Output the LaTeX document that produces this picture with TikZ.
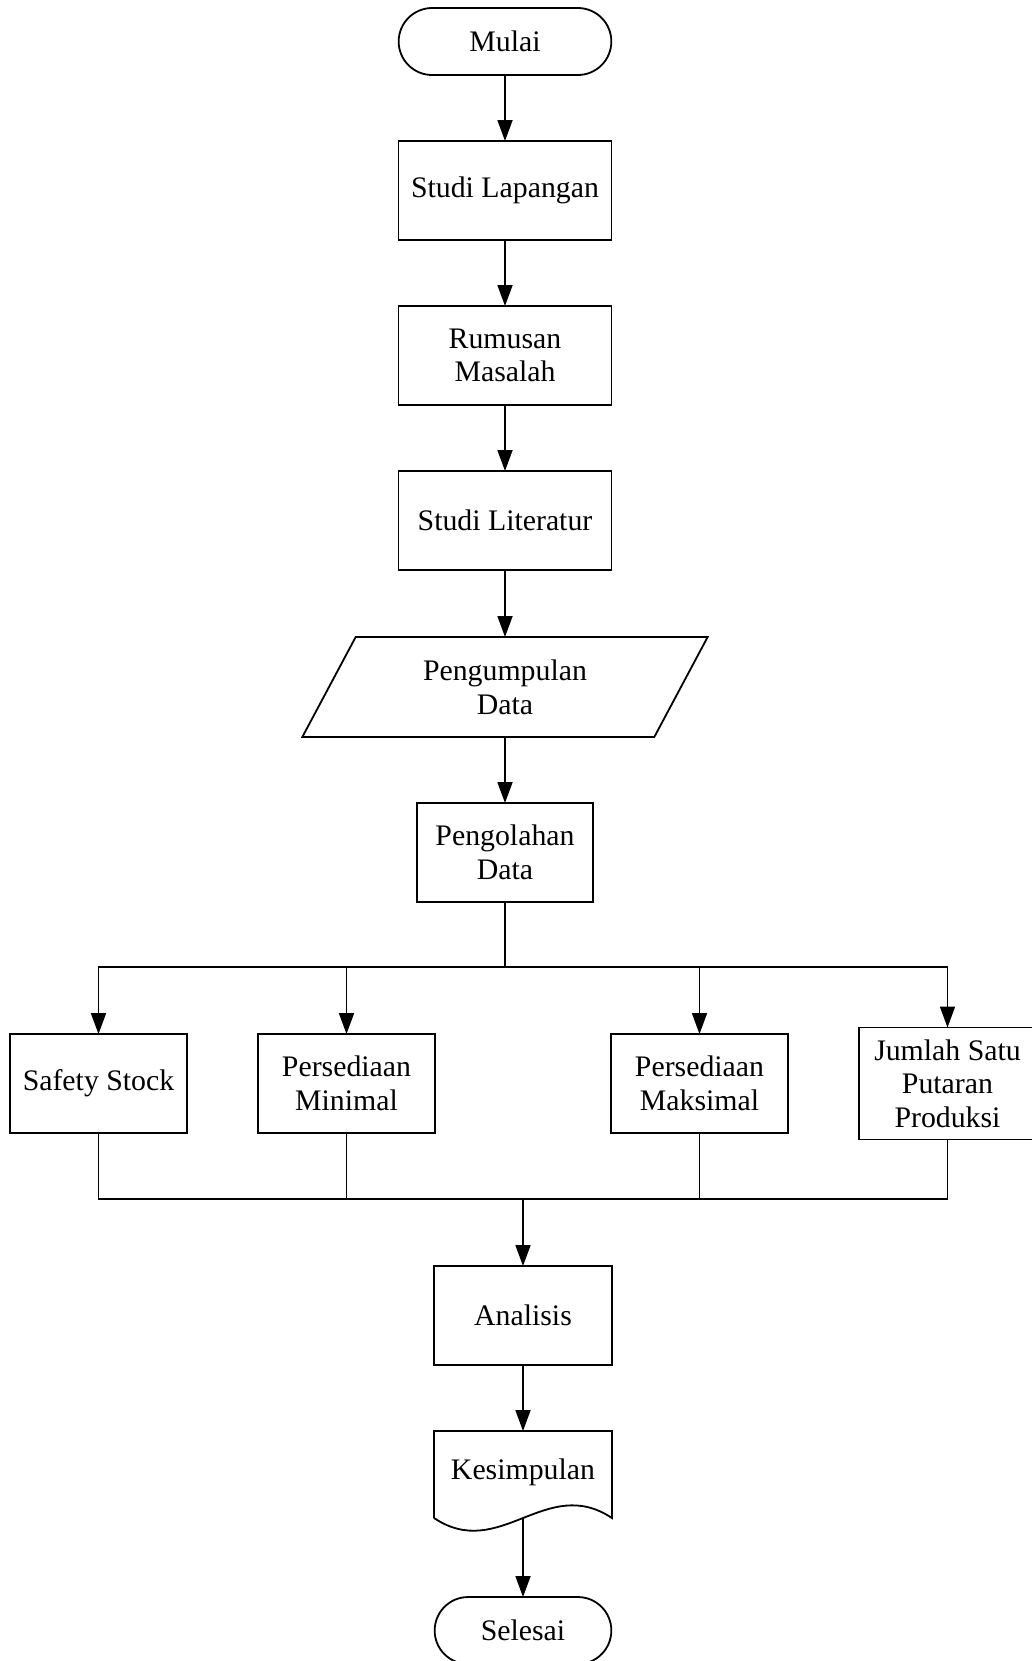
\documentclass[tikz,border=0pt]{standalone}
\usepackage{fontspec}
\setmainfont{Liberation Serif}
\usetikzlibrary{arrows.meta,calc,positioning,shapes.geometric,shapes.misc}

\begin{document}
\begin{tikzpicture}[
    font=\fontsize{14.9pt}{16.8pt}\selectfont,
    line width=0.9pt,
    node distance=33pt,
    every node/.style={outer sep=0pt},
    box/.style={draw,rectangle,minimum width=88.5pt,minimum height=49.5pt,
      align=center,inner sep=2pt},
    terminal/.style={draw,rounded rectangle,minimum width=113pt,minimum height=33.5pt},
    iobox/.style={draw,trapezium,trapezium left angle=65,trapezium right angle=115,
      trapezium stretches=true,minimum width=203pt,minimum height=50pt,align=center},
    arrow/.style={-{Triangle[length=10.5pt,width=7.5pt]}}
  ]
    \useasboundingbox (0,0) rectangle (516pt,-830.5pt);

    \node[terminal] (mulai) at (252.5pt,-20.75pt) {Mulai};
    \node[box,below=of mulai,minimum width=106.5pt] (lapangan) {Studi Lapangan};
    \node[box,below=of lapangan,minimum width=106.5pt] (rumusan) {Rumusan\\Masalah};
    \node[box,below=of rumusan,minimum width=106.5pt] (literatur) {Studi Literatur};
    \node[iobox,below=33.5pt of literatur] (pengumpulan) {Pengumpulan\\Data};
    \node[box,below=of pengumpulan,minimum width=88pt] (pengolahan) {Pengolahan\\Data};

    % hasil pengolahan
    \node[box,below=66pt of pengolahan,xshift=-203.25pt] (safety) {Safety Stock};
    \node[box,right=35.5pt of safety] (minimal) {Persediaan\\Minimal};
    \node[box,right=88pt of minimal] (maksimal) {Persediaan\\Maksimal};
    \node[box,right=35.5pt of maksimal,minimum height=56pt] (jumlah) {Jumlah Satu\\Putaran\\Produksi};

    \coordinate[below=32.5pt of pengolahan] (fork);
    \coordinate[below=33pt of safety] (joinleft);
    \coordinate (join) at ($(joinleft)!0.5!(joinleft -| jumlah)$);

    \node[box,below=33.5pt of join,minimum width=89pt] (analisis) {Analisis};
    \node[below=of analisis,minimum width=89pt,minimum height=43.5pt,inner sep=2pt,
      text depth=5pt] (kesimpulan) {Kesimpulan};
    \draw (kesimpulan.south west) -- (kesimpulan.north west) -- (kesimpulan.north east)
      -- (kesimpulan.south east) .. controls +(-33pt,22pt) and +(33pt,-22pt) .. (kesimpulan.south west);
    \node[terminal,below=39.5pt of kesimpulan,minimum width=95pt] (selesai) {Selesai};

    \draw[arrow] (mulai) -- (lapangan);
    \draw[arrow] (lapangan) -- (rumusan);
    \draw[arrow] (rumusan) -- (literatur);
    \draw[arrow] (literatur) -- (pengumpulan);
    \draw[arrow] (pengumpulan) -- (pengolahan);
    \draw (pengolahan) -- (fork);
    \draw[arrow] (fork) -| (safety);
    \draw[arrow] (fork) -| (minimal);
    \draw[arrow] (fork) -| (maksimal);
    \draw[arrow] (fork) -| (jumlah);
    \draw (safety) |- (join);
    \draw (minimal) |- (join);
    \draw (maksimal) |- (join);
    \draw (jumlah) |- (join);
    \draw[arrow] (join) -- (analisis);
    \draw[arrow] (analisis) -- (kesimpulan);
    \draw[arrow] (kesimpulan) -- (selesai);
  \end{tikzpicture}
\end{document}
